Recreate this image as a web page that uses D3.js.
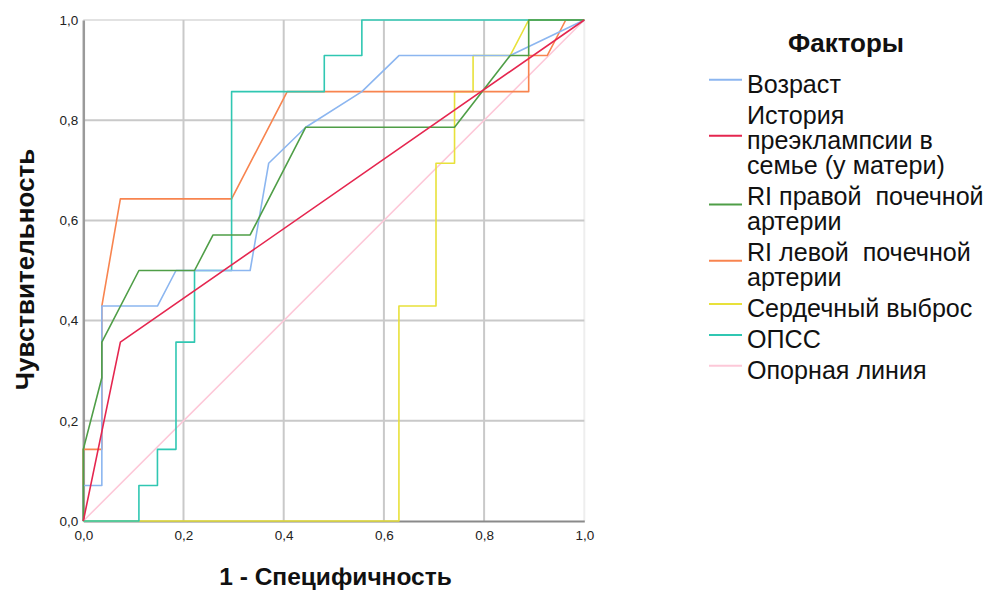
<!DOCTYPE html>
<html><head><meta charset="utf-8">
<script src="https://cdn.jsdelivr.net/npm/d3@7"></script>
<style>
html,body{margin:0;padding:0;background:#fff;}
svg{display:block;font-family:"Liberation Sans",Arial,sans-serif;}
</style></head>
<body><svg id="chart" width="984" height="590"></svg>
<script>
// ---- data ----
const tickValues = [0, 0.2, 0.4, 0.6, 0.8, 1.0];
const tickLabels = ["0,0", "0,2", "0,4", "0,6", "0,8", "1,0"];
const xTitle = "1 - Специфичность";
const yTitle = "Чувствительность";
const legendTitle = "Факторы";
const seriesNames = ["Возраст", "История преэклампсии в семье (у матери)", "RI правой  почечной артерии",
  "RI левой  почечной артерии", "Сердечный выброс", "ОПСС", "Опорная линия"];
const legendLabelLines = [["Возраст"], ["История", "преэклампсии в", "семье (у матери)"],
  ["RI правой  почечной", "артерии"], ["RI левой  почечной", "артерии"],
  ["Сердечный выброс"], ["ОПСС"], ["Опорная линия"]];
const seriesColors = ["#8cb6f0", "#e5264f", "#4f9e47", "#f8844f", "#e8e13a", "#30c7b2", "#fdc8d8"];

const vozrastX = [0, 0, 0.037, 0.037, 0.148, 0.185, 0.333, 0.370, 0.444, 0.556, 0.630, 0.852, 1];
const vozrastY = [0, 0.071, 0.071, 0.429, 0.429, 0.5, 0.5, 0.714, 0.786, 0.857, 0.929, 0.929, 1];
const historyX = [0, 0.074, 1];
const historyY = [0, 0.357, 1];
const riRightX = [0, 0, 0.037, 0.037, 0.111, 0.222, 0.259, 0.333, 0.444, 0.741, 0.852, 0.889, 0.889, 1];
const riRightY = [0, 0.143, 0.286, 0.357, 0.5, 0.5, 0.571, 0.571, 0.786, 0.786, 0.929, 0.929, 1, 1];
const riLeftX = [0, 0, 0.037, 0.037, 0.074, 0.296, 0.407, 0.889, 0.889, 0.926, 0.963, 1];
const riLeftY = [0, 0.143, 0.143, 0.429, 0.643, 0.643, 0.857, 0.857, 0.929, 0.929, 1, 1];
const cardiacX = [0, 0.630, 0.630, 0.704, 0.704, 0.741, 0.741, 0.778, 0.778, 0.852, 0.889, 1];
const cardiacY = [0, 0, 0.429, 0.429, 0.714, 0.714, 0.857, 0.857, 0.929, 0.929, 1, 1];
const opssX = [0, 0.111, 0.111, 0.148, 0.148, 0.185, 0.185, 0.222, 0.222, 0.296, 0.296, 0.481, 0.481, 0.556, 0.556, 1];
const opssY = [0, 0, 0.071, 0.071, 0.143, 0.143, 0.357, 0.357, 0.5, 0.5, 0.857, 0.857, 0.929, 0.929, 1, 1];
const refX = [0, 1];
const refY = [0, 1];

const seriesX = [vozrastX, historyX, riRightX, riLeftX, cardiacX, opssX, refX];
const seriesY = [vozrastY, historyY, riRightY, riLeftY, cardiacY, opssY, refY];
const drawOrder = [6, 4, 3, 5, 0, 2, 1];

// ---- layout ----
const svg = d3.select("#chart");
const L = 83.3, R = 584.3, T = 20, B = 521;
const x = d3.scaleLinear().domain([0, 1]).range([L, R]);
const y = d3.scaleLinear().domain([0, 1]).range([B, T]);

// frame (top/right light)
svg.append("line").attr("x1", L).attr("x2", R).attr("y1", T).attr("y2", T).attr("stroke", "#e2e2e2").attr("stroke-width", 2);
svg.append("line").attr("x1", R).attr("x2", R).attr("y1", T).attr("y2", B).attr("stroke", "#eeeeee").attr("stroke-width", 2);

// grid
const inner = tickValues.filter(v => v > 0 && v < 1);
svg.append("g").selectAll("line").data(inner).join("line")
  .attr("x1", d => x(d)).attr("x2", d => x(d)).attr("y1", T).attr("y2", B)
  .attr("stroke", "#c9c9c9").attr("stroke-width", 2);
svg.append("g").selectAll("line").data(inner).join("line")
  .attr("y1", d => y(d)).attr("y2", d => y(d)).attr("x1", L).attr("x2", R)
  .attr("stroke", "#c9c9c9").attr("stroke-width", 2);

// axes
const fmt = d => tickLabels[tickValues.indexOf(d)];
const xAxis = svg.append("g").attr("transform", `translate(0,${B})`)
  .call(d3.axisBottom(x).tickValues(tickValues).tickFormat(fmt).tickSize(0).tickPadding(9));
const yAxis = svg.append("g").attr("transform", `translate(${L},0)`)
  .call(d3.axisLeft(y).tickValues(tickValues).tickFormat(fmt).tickSize(0).tickPadding(5));
[xAxis, yAxis].forEach(a => {
  a.selectAll("text").attr("font-size", 13.5).attr("fill", "#222").attr("font-family", "Liberation Sans, Arial, sans-serif");
});
xAxis.select(".domain").attr("stroke", "#8a8a8a").attr("stroke-width", 2);
yAxis.select(".domain").attr("stroke", "#9a9a9a").attr("stroke-width", 2.5);

// curves
const line = d3.line().x(d => x(d[0])).y(d => y(d[1]));
svg.append("g").selectAll("path").data(drawOrder).join("path")
  .attr("d", i => line(seriesX[i].map((v, k) => [v, seriesY[i][k]])))
  .attr("fill", "none")
  .attr("stroke", i => seriesColors[i])
  .attr("stroke-width", 1.6)
  .attr("stroke-linejoin", "round");

// axis titles
svg.append("text").attr("x", 335.5).attr("y", 584.5).attr("text-anchor", "middle")
  .attr("font-size", 24.5).attr("font-weight", "bold").attr("fill", "#111").text(xTitle);
svg.append("text").attr("transform", "translate(33.5,269.5) rotate(-90)").attr("text-anchor", "middle")
  .attr("font-size", 26).attr("font-weight", "bold").attr("fill", "#111").text(yTitle);

// legend
const lg = svg.append("g");
lg.append("text").attr("x", 846).attr("y", 52).attr("text-anchor", "middle")
  .attr("font-size", 26).attr("font-weight", "bold").attr("fill", "#111").text(legendTitle);
let base = 92.7;
const within = 25.3, between = 30.8;
legendLabelLines.forEach((lines, i) => {
  const b0 = base, bLast = base + within * (lines.length - 1);
  const ly = (b0 - 17 + bLast) / 2 - 4.5;
  lg.append("line").attr("x1", 709).attr("x2", 742).attr("y1", ly).attr("y2", ly)
    .attr("stroke", seriesColors[i]).attr("stroke-width", 2);
  const t = lg.append("text").attr("x", 747).attr("y", b0).attr("font-size", 25.1).attr("fill", "#111")
    .style("white-space", "pre");
  lines.forEach((s, k) => {
    t.append("tspan").attr("x", 747).attr("y", b0 + k * within).text(s);
  });
  base = bLast + between;
});
</script></body></html>
